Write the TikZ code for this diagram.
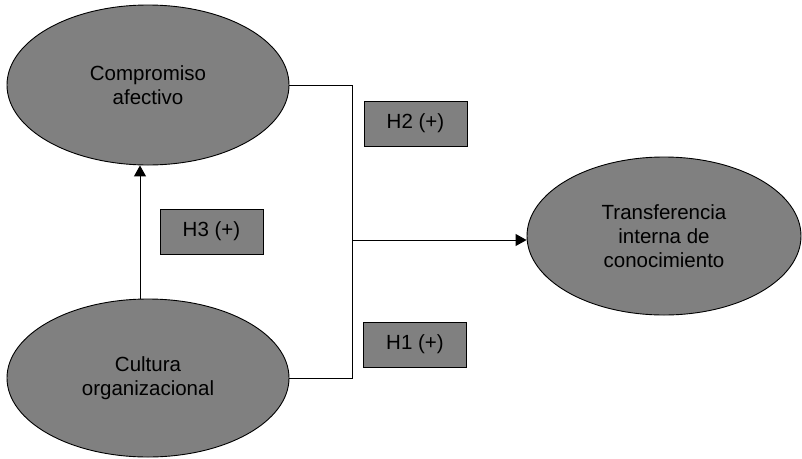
\documentclass[tikz,border=0pt]{standalone}
\usepackage{fontspec}
\setmainfont{Liberation Sans}
\usetikzlibrary{shapes.geometric,arrows.meta,calc}
\definecolor{fillgray}{HTML}{808080}
\begin{document}
\begin{tikzpicture}[x=1pt,y=-1pt,
  latent/.style={ellipse,draw=black,line width=0.9pt,fill=fillgray,inner sep=0pt,align=center,
    font=\fontsize{20.5}{24}\selectfont},
  hyp/.style={rectangle,draw=black,line width=0.9pt,fill=fillgray,inner sep=0pt,
    minimum width=103pt,minimum height=45pt,font=\fontsize{20.5}{24}\selectfont},
  conn/.style={line width=1pt,draw=black},
  arr/.style={conn,-{Triangle[length=11pt,width=12pt]}}]
\useasboundingbox (0,0) rectangle (802,458);
\node[latent,minimum width=282pt,minimum height=160pt] (CA) at (148,85) {Compromiso\\afectivo};
\node[latent,minimum width=282pt,minimum height=158pt] (CO) at (148,378) {Cultura\\organizacional};
\node[latent,minimum width=274pt,minimum height=158pt] (TI) at (664,236) {Transferencia\\interna de\\conocimiento};
\node[hyp] (H2) at (415.5,123.5) {H2 (+)};
\node[hyp] (H1) at (415,344.5) {H1 (+)};
\node[hyp] (H3) at (211.5,231.5) {H3 (+)};
\coordinate (J) at (352,240);
\draw[conn] (CA.east) -| (J);
\draw[conn] (CO.east) -| (J);
\draw[arr] (J) -- (J -| TI.west);
\draw[arr] (CO.north -| 140,0) -- (CA.south -| 140,0);
\end{tikzpicture}
\end{document}
